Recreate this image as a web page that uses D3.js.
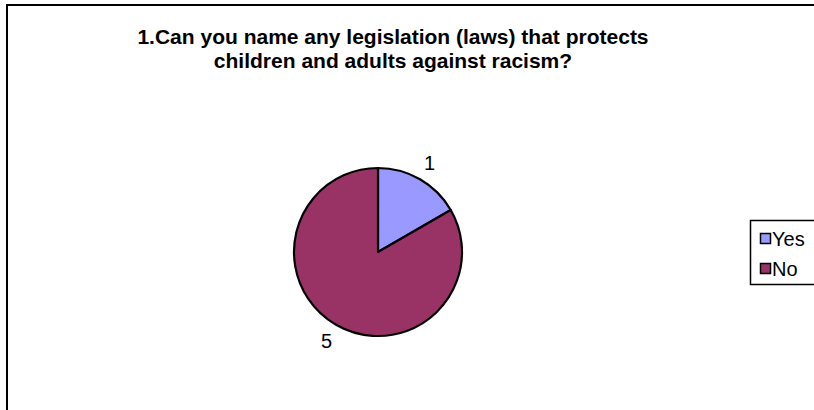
<!DOCTYPE html>
<html>
<head>
<meta charset="utf-8">
<script src="https://cdn.jsdelivr.net/npm/d3@7"></script>
<style>
  html, body { margin: 0; padding: 0; background: #fff; }
  svg { display: block; }
  text { font-family: "Liberation Sans", Arial, sans-serif; fill: #000; }
</style>
</head>
<body>
<svg id="chart" width="814" height="410"></svg>
<script>
// Survey answers
const categories = ["Yes", "No"];
const values = [1, 5];
const colors = ["#9999FF", "#993366"];
const titleLines = [
  "1.Can you name any legislation (laws) that protects",
  "children and adults against racism?"
];

const svg = d3.select("#chart");
const W = 814, H = 410;

// chart area frame
svg.append("rect")
  .attr("x", 7).attr("y", 5)
  .attr("width", W + 10).attr("height", H + 10)
  .attr("fill", "#fff").attr("stroke", "#000").attr("stroke-width", 2);

// title
const title = svg.append("text")
  .attr("text-anchor", "middle")
  .style("font-weight", "bold")
  .style("font-size", "21px");
titleLines.forEach((t, i) => {
  title.append("tspan").attr("x", 393).attr("y", 44 + i * 24).text(t);
});

// pie
const cx = 378, cy = 252, r = 84, labelR = 103;
const pie = d3.pie().sort(null).value(d => d)(values);
const arc = d3.arc().innerRadius(0).outerRadius(r);
const color = d3.scaleOrdinal().domain(categories).range(colors);

const g = svg.append("g").attr("transform", `translate(${cx},${cy})`);
g.selectAll("path.slice")
  .data(pie)
  .join("path")
  .attr("class", "slice")
  .attr("d", arc)
  .attr("fill", (d, i) => color(categories[i]))
  .attr("stroke", "#000")
  .attr("stroke-width", 2.2)
  .attr("stroke-linejoin", "round");

// value labels
g.selectAll("text.val")
  .data(pie)
  .join("text")
  .attr("class", "val")
  .attr("text-anchor", "middle")
  .attr("dominant-baseline", "central")
  .style("font-size", "20px")
  .attr("x", d => Math.sin((d.startAngle + d.endAngle) / 2) * labelR)
  .attr("y", d => -Math.cos((d.startAngle + d.endAngle) / 2) * labelR)
  .text(d => d.value);

// legend
const lg = svg.append("g");
lg.append("rect")
  .attr("x", 750.5).attr("y", 220.5)
  .attr("width", 80).attr("height", 64)
  .attr("fill", "#fff").attr("stroke", "#000").attr("stroke-width", 1.5);
const item = lg.selectAll("g.item")
  .data(categories)
  .join("g")
  .attr("class", "item")
  .attr("transform", (d, i) => `translate(760,${233 + i * 30})`);
item.append("rect")
  .attr("x", 0.5).attr("y", 0.5)
  .attr("width", 10).attr("height", 10)
  .attr("fill", d => color(d))
  .attr("stroke", "#000").attr("stroke-width", 1.5);
item.append("text")
  .attr("x", 12).attr("y", 12.5)
  .style("font-size", "20px")
  .text(d => d);
</script>
</body>
</html>
